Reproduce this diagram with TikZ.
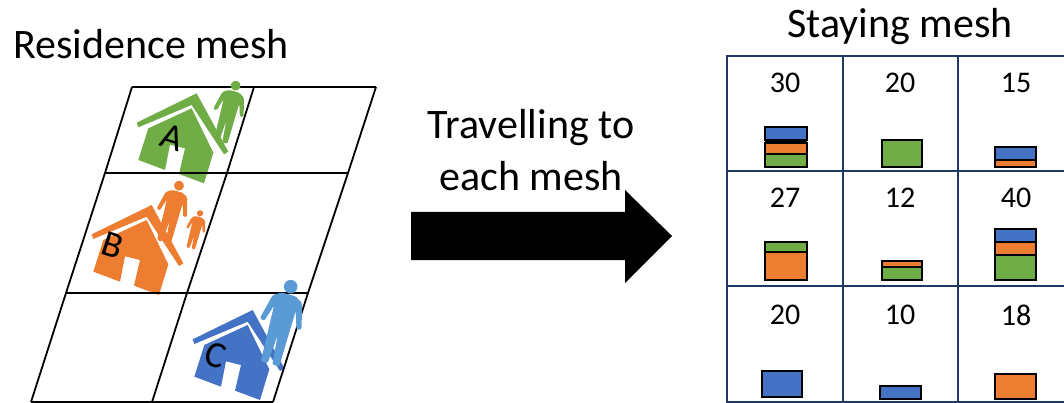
\documentclass[tikz,border=0pt]{standalone}
\usepackage{fontspec}
\setmainfont{Carlito}
\definecolor{cblue}{HTML}{4472C4}
\definecolor{corange}{HTML}{ED7D31}
\definecolor{cgreen}{HTML}{70AD47}
\definecolor{clight}{HTML}{5B9BD5}
\definecolor{cnavy}{HTML}{1F3864}
\tikzset{
  meshline/.style={draw=black,line width=1.8pt},
  staygrid/.style={draw=cnavy,line width=1.6pt},
  barpart/.style={draw=black,line width=1.8pt},
  titletext/.style={font=\fontsize{42}{44}\selectfont,inner sep=0pt},
  numtext/.style={font=\fontsize{30}{32}\selectfont,inner sep=0pt},
  lettertext/.style={font=\fontsize{37}{39}\selectfont,inner sep=0pt,rotate=-18},
}
\newcommand{\housedraw}[3]{%
 \begin{scope}[shift={(#1,#2)}]
  \fill[#3] (410,158)--(590,70)--(685,245)--(672,253)--(575,105)--(415,172)--cycle;
  \fill[#3] (445,175)--(575,115)--(640,248)--(612,340)--(537,312)--(555,235)--(510,224)--(495,300)--(415,270)--cycle;
 \end{scope}}
\newcommand{\persondraw}[4]{%
 \begin{scope}[shift={(#1,#2)},scale=#3,rotate=-15]
  \fill[#4] (0,0) circle (8.5);
  \fill[#4,rounded corners=1.5pt] (-9,10)--(9,10)--(19,16)--(27,48)--(21,50)--(14,28)--(13,60)--(12,100)--(3,100)--(0,62)--(-3,100)--(-12,100)--(-13,60)--(-14,28)--(-21,50)--(-27,48)--(-19,16)--cycle;
 \end{scope}}
\newcommand{\stackbar}[5]{% x0 x1 y0 y1 colour
 \filldraw[barpart,fill=#5] (#1,#3) rectangle (#2,#4);}
\begin{document}
\begin{tikzpicture}[x=1pt,y=-1pt]
\useasboundingbox (0,0) rectangle (1064,403);
\fill[white] (0,0) rectangle (1064,403);
% left panel
\begin{scope}[shift={(0,70)},x=1pt/3,y=-1pt/3]
 \housedraw{0}{0}{cgreen}
 \housedraw{-135}{335}{corange}
 \housedraw{168}{650}{cblue}
\end{scope}
\coordinate (g00) at (132,87); \coordinate (g01) at (254,87); \coordinate (g02) at (376,87);
\coordinate (g10) at (105,173); \coordinate (g11) at (227,173); \coordinate (g12) at (348,173);
\coordinate (g20) at (66,293); \coordinate (g21) at (187,293); \coordinate (g22) at (308,293);
\coordinate (g30) at (31,402); \coordinate (g31) at (152,402); \coordinate (g32) at (273,402);
\draw[meshline] (g00)--(g02) (g10)--(g12) (g20)--(g22) (g30)--(g32);
\draw[meshline] (g00)--(g10)--(g20)--(g30) (g01)--(g11)--(g21)--(g31) (g02)--(g12)--(g22)--(g32);
\begin{scope}[shift={(0,70)},x=1pt/3,y=-1pt/3]
 \persondraw{707}{47}{1.75}{cgreen}
 \persondraw{537}{347}{1.75}{corange}
 \persondraw{600}{430}{1.1}{corange}
 \persondraw{872}{650}{2.4}{clight}
\end{scope}
\node[lettertext] (la) at (172,138) {A};
\node[lettertext] (lb) at (113,245) {B};
\node[lettertext] (lc) at (216,355) {C};
\node[titletext] (t1) at (151,44) {Residence mesh};
\node[titletext] (t2) at (900,27) {Staying mesh};
% arrow
\fill[black] (411,212)--(625,212)--(625,190)--(672,236)--(625,283)--(625,260)--(411,260)--cycle;
\node[titletext] (t3) at (531,128) {Travelling to};
\node[titletext] (t4) at (531,176) {each mesh};
% right grid
\draw[staygrid] (1064,56)--(727,56)--(727,402)--(1064,402);
\draw[staygrid] (727,171)--(1064,171) (727,286)--(1064,286) (843,56)--(843,402) (958,56)--(958,402);
\node[numtext] (n1) at (785,83) {30};
\node[numtext] (n2) at (900,83) {20};
\node[numtext] (n3) at (1016,83) {15};
\node[numtext] (n4) at (785,198) {27};
\node[numtext] (n5) at (900,198) {12};
\node[numtext] (n6) at (1016,198) {40};
\node[numtext] (n7) at (785,315) {20};
\node[numtext] (n8) at (900,315) {10};
\node[numtext] (n9) at (1016,315) {18};
\begin{scope}[shift={(720,50)},x=1pt/3,y=-1pt/3]
 \stackbar{136}{260}{232}{270}{cblue}
 \fill[black] (136,266) rectangle (260,278);
 \stackbar{136}{260}{278}{313}{corange}
 \stackbar{136}{260}{313}{350}{cgreen}
 \stackbar{486}{606}{271}{350}{cgreen}
 \stackbar{826}{948}{292}{330}{cblue}
 \stackbar{826}{948}{330}{350}{corange}
 \stackbar{136}{260}{575}{605}{cgreen}
 \stackbar{136}{260}{605}{690}{corange}
 \stackbar{486}{606}{634}{650}{corange}
 \stackbar{486}{606}{650}{690}{cgreen}
 \stackbar{826}{948}{538}{577}{cblue}
 \stackbar{826}{948}{577}{616}{corange}
 \stackbar{826}{948}{616}{690}{cgreen}
 \stackbar{126}{246}{964}{1040}{cblue}
 \stackbar{479}{602}{1008}{1046}{cblue}
 \stackbar{826}{948}{971}{1046}{corange}
\end{scope}
\end{tikzpicture}
\end{document}
